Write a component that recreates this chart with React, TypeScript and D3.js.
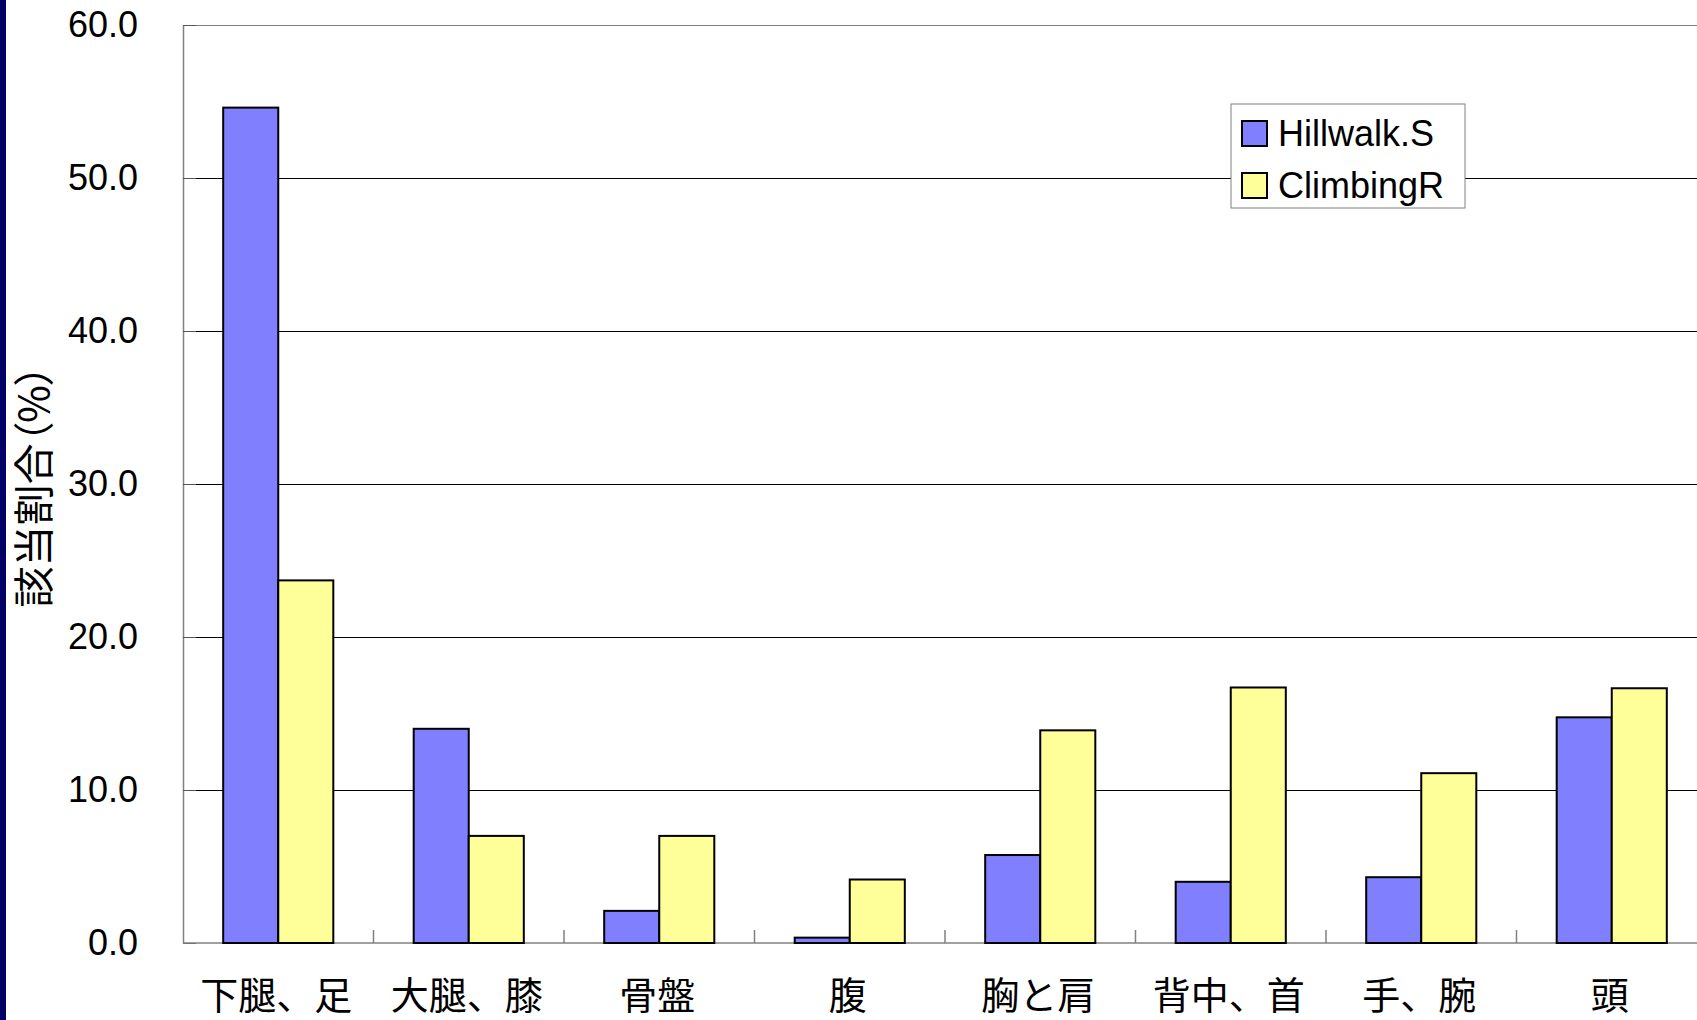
import * as d3 from 'd3';
import React, { useEffect, useRef } from 'react';

const categories = ['下腿、足', '大腿、膝', '骨盤', '腹', '胸と肩', '背中、首', '手、腕', '頭'];
const hillwalk = [54.6, 14.0, 2.1, 0.35, 5.75, 4.0, 4.3, 14.75];
const climbing = [23.7, 7.0, 7.0, 4.15, 13.9, 16.7, 11.1, 16.65];
const seriesNames = ['Hillwalk.S', 'ClimbingR'];
const seriesColors = ['#8080FF', '#FFFF99'];
const yTicks = [0, 10, 20, 30, 40, 50, 60];

const W = 1697;
const H = 1020;
const latin = '"Liberation Sans", Arial, "Noto Sans CJK JP", sans-serif';
const cjk = '"Noto Sans CJK JP", sans-serif';

export default function App() {
    const ref = useRef<SVGSVGElement>(null);

    useEffect(() => {
        document.body.style.margin = '0';
        const svg = d3.select(ref.current);
        svg.selectAll('*').remove();

        const left = 183, top = 25, bottom = 943;
        const plotW = 190.5 * categories.length;

        const x = d3.scaleBand().domain(categories).range([left, left + plotW]);
        const inner = d3.scaleBand().domain(seriesNames).range([0, x.bandwidth()]).paddingOuter(0.73).paddingInner(0);
        const y = d3.scaleLinear().domain([0, 60]).range([bottom, top]);

        svg.append('rect').attr('width', W).attr('height', H).attr('fill', '#fff');
        svg.append('rect').attr('x', 0).attr('y', 0).attr('width', 6).attr('height', H).attr('fill', '#000066');

        // gridlines
        svg.append('g').selectAll('line')
            .data(yTicks.filter(d => d > 0))
            .enter().append('line')
            .attr('x1', left).attr('x2', left + plotW)
            .attr('y1', d => y(d)).attr('y2', d => y(d))
            .attr('stroke', d => d === 60 ? '#808080' : '#000')
            .attr('stroke-width', 1)
            .attr('shape-rendering', 'crispEdges');

        // y axis
        const gy = svg.append('g').attr('transform', `translate(${left},0)`)
            .call(d3.axisLeft(y).tickValues(yTicks).tickSizeInner(-13).tickSizeOuter(0).tickPadding(45).tickFormat(d3.format('.1f')));
        gy.select('.domain').attr('stroke', '#808080').attr('stroke-width', 1.5);
        gy.selectAll('.tick line').attr('stroke', '#555');
        gy.selectAll('.tick text').attr('font-family', latin).attr('font-size', 36).attr('fill', '#000');

        // x axis
        svg.append('line')
            .attr('x1', left).attr('x2', left + plotW).attr('y1', bottom).attr('y2', bottom)
            .attr('stroke', '#808080').attr('stroke-width', 1.5);
        svg.append('g').selectAll('line')
            .data(categories.slice(1))
            .enter().append('line')
            .attr('x1', d => x(d)!).attr('x2', d => x(d)!)
            .attr('y1', bottom).attr('y2', bottom - 13)
            .attr('stroke', '#808080').attr('stroke-width', 1.5);
        svg.append('g').selectAll('text')
            .data(categories)
            .enter().append('text')
            .attr('x', d => x(d)! + x.bandwidth() / 2 - 2)
            .attr('y', 1009)
            .attr('text-anchor', 'middle')
            .attr('font-family', cjk)
            .attr('font-size', 38)
            .attr('fill', '#000')
            .text(d => d);

        // bars
        const series = [hillwalk, climbing];
        series.forEach((vals, si) => {
            svg.append('g').selectAll('rect')
                .data(vals)
                .enter().append('rect')
                .attr('x', (d, i) => x(categories[i])! + inner(seriesNames[si])!)
                .attr('y', d => y(d))
                .attr('width', inner.bandwidth())
                .attr('height', d => bottom - y(d))
                .attr('fill', seriesColors[si])
                .attr('stroke', '#000')
                .attr('stroke-width', 2);
        });

        // y title
        svg.append('text')
            .attr('transform', `translate(49, ${(top + bottom) / 2 + 2}) rotate(-90)`)
            .attr('text-anchor', 'middle')
            .attr('font-family', cjk)
            .attr('font-size', 41)
            .style('font-feature-settings', '"palt"')
            .attr('fill', '#000')
            .text('該当割合（%）');

        // legend
        const lg = svg.append('g').attr('transform', 'translate(1231,104)');
        lg.append('rect').attr('width', 234).attr('height', 104)
            .attr('fill', '#fff').attr('stroke', '#808080').attr('stroke-width', 1);
        seriesNames.forEach((name, i) => {
            lg.append('rect').attr('x', 11).attr('y', 17 + i * 52).attr('width', 25).attr('height', 25)
                .attr('fill', seriesColors[i]).attr('stroke', '#000').attr('stroke-width', 2);
            lg.append('text').attr('x', 47).attr('y', 42 + i * 52)
                .attr('font-family', latin).attr('font-size', 36).attr('fill', '#000')
                .text(name);
        });
    }, []);

    return <svg ref={ref} width={W} height={H} style={{ display: 'block' }} />;
}
